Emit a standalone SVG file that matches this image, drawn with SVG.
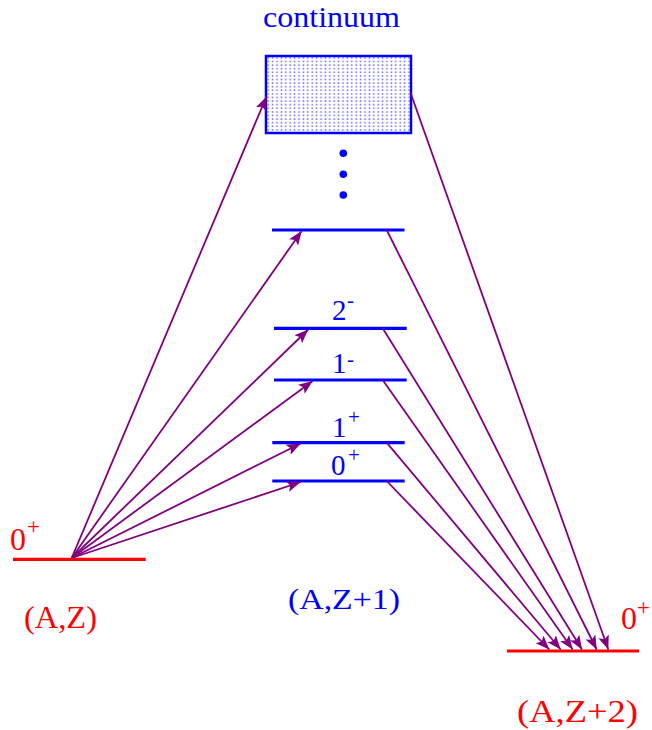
<svg xmlns="http://www.w3.org/2000/svg" width="652" height="730" viewBox="0 0 652 730">
<style>
.lvl{stroke:#0000ff;stroke-width:3.2;fill:none}
.gnd{stroke:#ff0000;stroke-width:3.2;fill:none}
.arr{stroke:#800080;stroke-width:1.8;fill:none;marker-end:url(#ah)}
.tb{font-family:"Liberation Serif","Times New Roman",serif;fill:#0000ff;font-size:29px}
.tr{font-family:"Liberation Serif","Times New Roman",serif;fill:#ff0000;font-size:32px}
.sup{font-size:21px}
</style>
<defs>
<marker id="ah" markerUnits="userSpaceOnUse" markerWidth="16" markerHeight="12" refX="14" refY="6" orient="auto">
<path d="M0,0.5 L14,6 L0,11.5 L3,6 Z" fill="#800080"/>
</marker>
<pattern id="dots" patternUnits="userSpaceOnUse" width="4.4" height="3.6" x="266" y="56">
<rect x="1.5" y="1.2" width="1.4" height="1.4" fill="#2020ff" opacity="0.8"/>
</pattern>
</defs>
<rect width="652" height="730" fill="#ffffff"/>
<g id="continuum">
<rect x="266" y="56" width="145" height="77" fill="url(#dots)" stroke="#0000ff" stroke-width="2.5"/>
<text class="tb" x="263" y="27" textLength="137" lengthAdjust="spacingAndGlyphs">continuum</text>
</g>
<g id="dots-ellipsis" fill="#0000ff">
<circle cx="343.3" cy="153.3" r="3.8"/>
<circle cx="343.3" cy="174.3" r="3.8"/>
<circle cx="343.3" cy="195" r="3.8"/>
</g>
<g id="level-top"><line class="lvl" x1="272" y1="230" x2="404.5" y2="230"/></g>
<g id="level-2minus"><line class="lvl" x1="274" y1="328.3" x2="406.7" y2="328.3"/>
<text class="tb" x="332" y="320">2<tspan class="sup" x="347" y="307">-</tspan></text></g>
<g id="level-1minus"><line class="lvl" x1="274" y1="380" x2="406.7" y2="380"/>
<text class="tb" x="332" y="373">1<tspan class="sup" x="347" y="366">-</tspan></text></g>
<g id="level-1plus"><line class="lvl" x1="272.3" y1="442.7" x2="404.7" y2="442.7"/>
<text class="tb" x="332" y="437">1<tspan class="sup" x="348" y="424">+</tspan></text></g>
<g id="level-0plus"><line class="lvl" x1="272.3" y1="481" x2="404.7" y2="481"/>
<text class="tb" x="331" y="475">0<tspan class="sup" x="348" y="462">+</tspan></text></g>
<g id="label-AZ1"><text class="tb" x="288" y="609" textLength="112" lengthAdjust="spacingAndGlyphs">(A,Z+1)</text></g>
<g id="ground-AZ">
<line class="gnd" x1="13" y1="559.3" x2="145.7" y2="559.3"/>
<text class="tr" x="10" y="550">0<tspan class="sup" style="font-size:23px" x="27" y="534">+</tspan></text>
<text class="tr" x="24" y="628" textLength="73" lengthAdjust="spacingAndGlyphs">(A,Z)</text>
</g>
<g id="ground-AZ2">
<line class="gnd" x1="507" y1="651" x2="639" y2="651"/>
<text class="tr" x="621" y="629">0<tspan class="sup" style="font-size:23px" x="637" y="615">+</tspan></text>
<text class="tr" x="517" y="721.5" textLength="121" lengthAdjust="spacingAndGlyphs">(A,Z+2)</text>
</g>
<g id="connectors">
<line class="arr" x1="71.7" y1="558" x2="266.5" y2="96.5"/>
<line class="arr" x1="71.7" y1="558" x2="301.7" y2="231"/>
<line class="arr" x1="71.7" y1="558" x2="308.3" y2="329.5"/>
<line class="arr" x1="71.7" y1="558" x2="312.7" y2="381"/>
<line class="arr" x1="71.7" y1="558" x2="300.7" y2="443.5"/>
<line class="arr" x1="71.7" y1="558" x2="300.7" y2="482"/>
<line class="arr" x1="410.7" y1="93.3" x2="608.3" y2="649.5"/>
<line class="arr" x1="386.7" y1="230" x2="596.7" y2="649.5"/>
<line class="arr" x1="382.7" y1="328.3" x2="582" y2="649.5"/>
<line class="arr" x1="382.7" y1="380" x2="572.7" y2="649.5"/>
<line class="arr" x1="386.7" y1="442.7" x2="560.7" y2="649.5"/>
<line class="arr" x1="386.7" y1="481" x2="549.3" y2="649.5"/>
</g>
</svg>
